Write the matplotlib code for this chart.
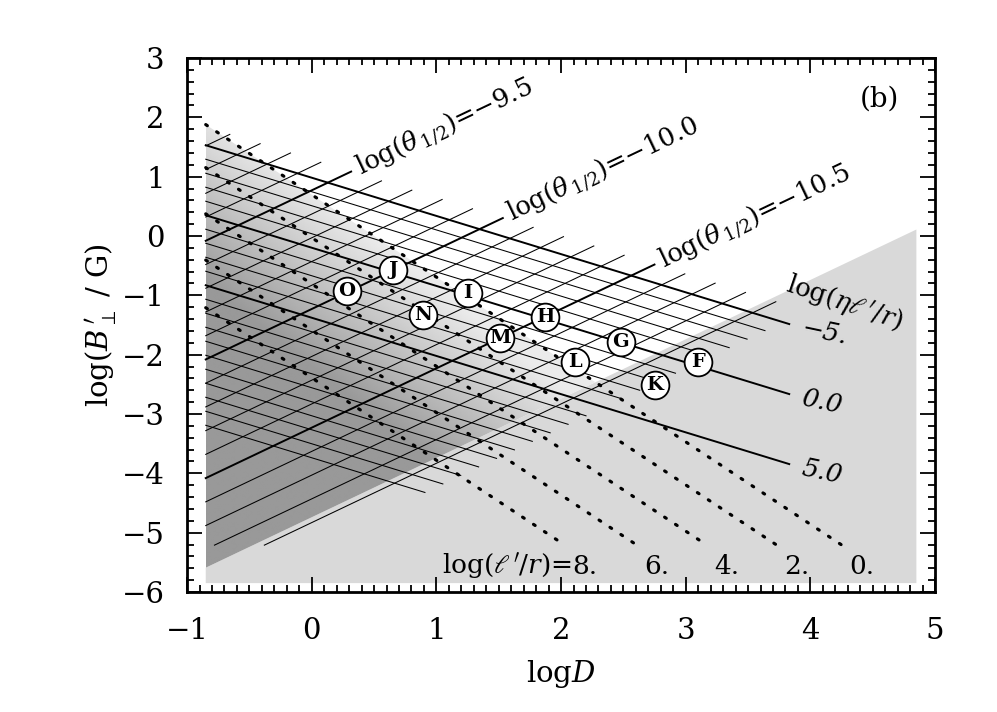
import numpy as np
import matplotlib
matplotlib.use("Agg")
import matplotlib.pyplot as plt
from matplotlib.patches import Polygon
from matplotlib.ticker import MultipleLocator

plt.rcParams['font.family'] = 'serif'
plt.rcParams['font.serif'] = ['DejaVu Serif']
plt.rcParams['mathtext.fontset'] = 'dejavuserif'

# family 1: log(eta l'/r) = p, lines falling to the right in (logD, logB)
p_values = np.arange(-5, 16)
p_thick = [-5, 0, 5]
p_labels = ['−5.', '0.0', '5.0']
p_slope = -0.644
p_icept_top = 0.983      # intercept of the p = -5 line
p_step = -0.236          # intercept change per unit of p
p_grid_end = -6.3        # theta lines stop on this p line
p_thick_xend = 3.83

# family 2: log(theta_1/2) = q, lines rising to the right
q_values = np.round(np.arange(-10.9, -9.05, 0.1), 1)
q_thick = [-9.5, -10.0, -10.5]
q_slope = 1.0
q_icept_ref = -3.23      # intercept of q = -10.5 line
q_step = 4.0
q_grid_end = -11.0       # eta lines stop on this q line

# dotted lines log(l'/r) = const, given by their lower end points
lr_values = [8, 6, 4, 2, 0]
lr_xend = [2.031, 2.609, 3.17, 3.731, 4.253]
lr_slope = -1.389
y_floor = -5.21
x_left = -0.85

# shaded regions
base_icept = -4.74       # lower light-grey region lies below y = x + base_icept
shade_bottom = -5.85
shade_right = 4.85

# sources
src_names = ['O', 'J', 'N', 'I', 'M', 'H', 'L', 'G', 'K', 'F']
src_x = [0.283, 0.652, 0.895, 1.253, 1.51, 1.871, 2.11, 2.48, 2.75, 3.10]
src_y = [-0.93, -0.575, -1.33, -0.96, -1.72, -1.367, -2.13, -1.79, -2.51, -2.13]


def p_icept(p):
    return p_icept_top + p_step * (p + 5)


def q_icept(q):
    return q_icept_ref + q_step * (q + 10.5)


fig = plt.figure(figsize=(9.97, 7.12), dpi=100)
ax = fig.add_axes([0.1876, 0.1685, 0.7503, 0.75])

# light grey background region
ax.add_patch(Polygon([(x_left, shade_bottom), (shade_right, shade_bottom),
                      (shade_right, shade_right + base_icept),
                      (x_left, x_left + base_icept)],
                     closed=True, facecolor='#d9d9d9', edgecolor='none', zorder=0))

# gradient region between the base line and the l'/r = 0 dotted line
c0 = y_floor - lr_slope * lr_xend[-1]
c_step = (lr_slope * (lr_xend[0] - lr_xend[-1])) / (lr_values[0] - lr_values[-1])
xi = (c0 - base_icept) / (1 - lr_slope)
verts = [(x_left, x_left + base_icept), (xi, xi + base_icept),
         (x_left, c0 + lr_slope * x_left)]
xx = np.linspace(x_left, 5, 400)
yy = np.linspace(-6, 3, 400)
X, Y = np.meshgrid(xx, yy)
K = (c0 - (Y - lr_slope * X)) / c_step    # continuous log(l'/r) value
G = np.clip(0.91 - 0.041 * K + 0.03 * X, 0.6, 0.92)
im = ax.imshow(G, extent=(x_left, 5, -6, 3), origin='lower', cmap='gray',
               vmin=0, vmax=1, aspect='auto', zorder=1, interpolation='bilinear')
clip = Polygon(verts, closed=True, facecolor='none', edgecolor='none')
ax.add_patch(clip)
im.set_clip_path(clip)

# eta lines
for p in p_values:
    c = p_icept(p)
    thick = p in p_thick
    if thick:
        x1 = p_thick_xend
    else:
        x1 = (c - q_icept(q_grid_end)) / (q_slope - p_slope)
    xs = np.array([x_left, x1])
    ax.plot(xs, c + p_slope * xs, color='black', lw=1.4 if thick else 0.75, zorder=3)

# theta lines
for q in q_values:
    d = q_icept(q)
    x0 = max(x_left, (y_floor - d) / q_slope)
    x1 = (p_icept(p_grid_end) - d) / (q_slope - p_slope)
    xs = np.array([x0, x1])
    thick = q in q_thick
    ax.plot(xs, d + q_slope * xs, color='black', lw=1.4 if thick else 0.75, zorder=3)

# dotted l'/r lines
for v, xe in zip(lr_values, lr_xend):
    c = y_floor - lr_slope * xe
    xs = np.array([x_left, xe])
    ax.plot(xs, c + lr_slope * xs, color='black', lw=2.3,
            linestyle=(0, (0.6, 3.5)), dash_capstyle='round', zorder=3)

ax.set_xlim(-1, 5)
ax.set_ylim(-6, 3)


def disp_angle(slope):
    a = ax.transData.transform((0, 0))
    b = ax.transData.transform((1, slope))
    return np.degrees(np.arctan2(b[1] - a[1], b[0] - a[0]))


ang_q = disp_angle(q_slope)
ang_p = disp_angle(p_slope)

# theta labels at the end of the thick theta lines
for q in q_thick:
    d = q_icept(q)
    x1 = (p_icept(p_grid_end) - d) / (q_slope - p_slope)
    ax.text(x1 + 0.05, d + q_slope * (x1 + 0.05), r'log($\theta_{\,1/2}$)=' + f'−{abs(q):.1f}',
            rotation=ang_q, rotation_mode='anchor', ha='left', va='center',
            fontsize=18.5, zorder=4)

# eta labels
for p, lab in zip(p_thick, p_labels):
    xl = p_thick_xend + 0.1
    ax.text(xl, p_icept(p) + p_slope * xl, lab, rotation=ang_p * 0.7,
            rotation_mode='anchor', ha='left', va='center', fontsize=18.5,
            style='italic', zorder=4)
ax.text(p_thick_xend - 0.02, p_icept(-5) + p_slope * p_thick_xend + 0.68,
        r"log($\eta\ell\,'/r$)", rotation=ang_p * 1.1, rotation_mode='anchor',
        ha='left', va='center', fontsize=18.5, zorder=4)

# l'/r labels
for v, xe in zip(lr_values, lr_xend):
    ax.text(xe + 0.06, -5.57, f'{v}.', ha='left', va='center', fontsize=19, zorder=4)
    if v == lr_values[0]:
        ax.text(xe + 0.06, -5.57, r"log($\ell\,'/r$)=", ha='right', va='center',
                fontsize=19, zorder=4)

# sources
ax.plot(src_x, src_y, 'o', ms=20, mfc='white', mec='black', mew=1.3, zorder=5)
for n, x, y in zip(src_names, src_x, src_y):
    ax.text(x, y, n, ha='center', va='center', fontsize=14, fontweight='bold', zorder=6)

ax.text(4.55, 2.3, '(b)', ha='center', va='center', fontsize=20)

ax.xaxis.set_major_locator(MultipleLocator(1))
ax.xaxis.set_minor_locator(MultipleLocator(0.1))
ax.yaxis.set_major_locator(MultipleLocator(1))
ax.yaxis.set_minor_locator(MultipleLocator(0.2))
ax.tick_params(which='both', direction='in', top=True, right=True, width=1.3, labelsize=21)
ax.tick_params(which='major', length=11)
ax.tick_params(which='minor', length=5)
ax.tick_params(axis='x', pad=18)
ax.tick_params(axis='y', pad=16)
for s in ax.spines.values():
    s.set_linewidth(2)

ax.set_xlabel(r'log$D$', fontsize=21, labelpad=9)
ax.set_ylabel(r"log($B_\perp^{\,\prime}$ / G)", fontsize=21, labelpad=3)

fig.savefig('out.png', dpi=100)
